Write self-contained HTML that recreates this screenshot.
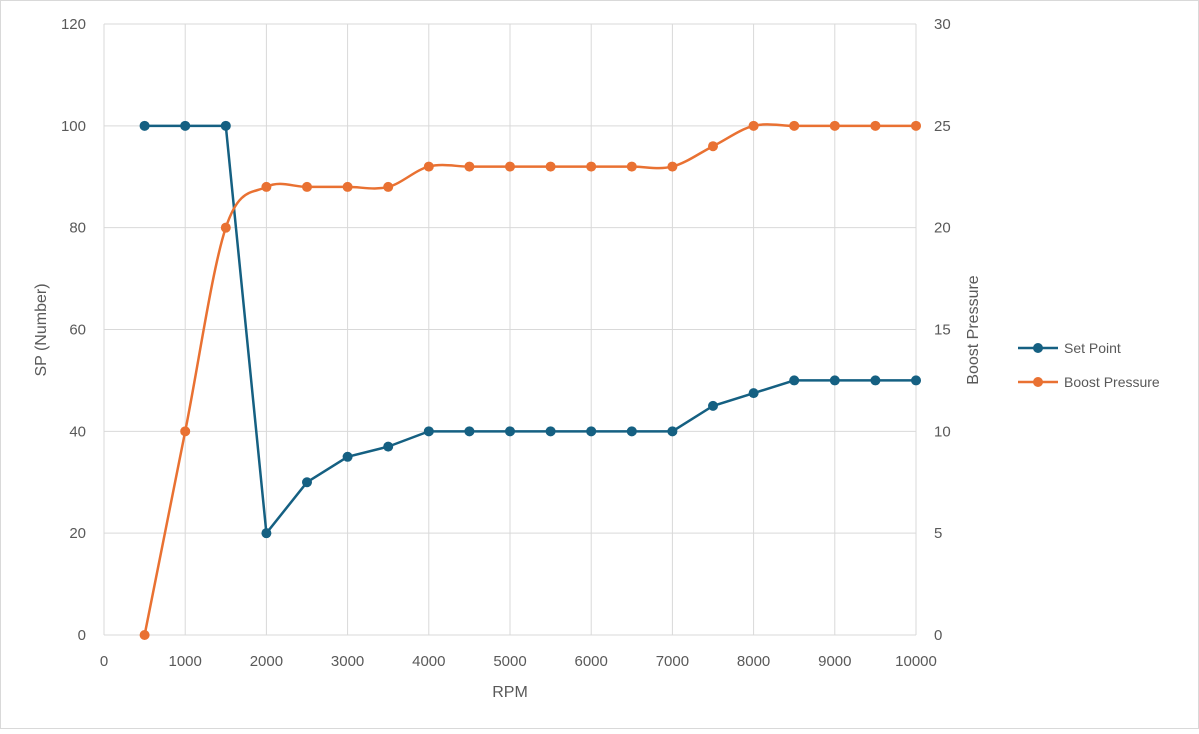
<!DOCTYPE html>
<html><head><meta charset="utf-8"><style>
body{margin:0;background:#fff;font-family:"Liberation Sans",sans-serif;}
svg text{font-family:"Liberation Sans",sans-serif;fill:#595959;}
</style></head><body>
<svg width="1199" height="729">
<rect x="0.5" y="0.5" width="1198" height="728" fill="#fff" stroke="#d9d9d9"/>
<g id="grid"></g><g id="axes"></g><g id="series"></g>
<text x="510" y="697" text-anchor="middle" font-size="16">RPM</text>
<text transform="translate(46,330) rotate(-90)" text-anchor="middle" font-size="16">SP (Number)</text>
<text transform="translate(978,330) rotate(-90)" text-anchor="middle" font-size="16">Boost Pressure</text>
<g>
<line x1="1018" y1="348" x2="1058" y2="348" stroke="#156082" stroke-width="2.5"/><circle cx="1038" cy="348" r="5" fill="#156082"/>
<text x="1064" y="353" font-size="14">Set Point</text></g>
<g>
<line x1="1018" y1="382" x2="1058" y2="382" stroke="#e97132" stroke-width="2.5"/><circle cx="1038" cy="382" r="5" fill="#e97132"/>
<text x="1064" y="387" font-size="14">Boost Pressure</text></g>
</svg>
<script>
const rpm=[500,1000,1500,2000,2500,3000,3500,4000,4500,5000,5500,6000,6500,7000,7500,8000,8500,9000,9500,10000];
const setPoint=[100,100,100,20,30,35,37,40,40,40,40,40,40,40,45,47.5,50,50,50,50];
const boost=[0,10,20,22,22,22,22,23,23,23,23,23,23,23,24,25,25,25,25,25];
const xTicks=[0,1000,2000,3000,4000,5000,6000,7000,8000,9000,10000];
const yTicks=[0,20,40,60,80,100,120];
const y2Ticks=[0,5,10,15,20,25,30];
const X0=104,X1=916,Y0=635,Y1=24;
const sx=v=>X0+(v/10000)*(X1-X0), sy=v=>Y0-(v/120)*(Y0-Y1), sy2=v=>Y0-(v/30)*(Y0-Y1);
const NS="http://www.w3.org/2000/svg";
function mk(t,a,p){const e=document.createElementNS(NS,t);for(const k in a)e.setAttribute(k,a[k]);p.appendChild(e);return e;}
const grid=document.getElementById('grid'),axes=document.getElementById('axes'),ser=document.getElementById('series');
xTicks.forEach(v=>{const l=mk('line',{x1:sx(v),x2:sx(v),y1:Y1,y2:Y0,stroke:'#d9d9d9'},grid);


const t=mk('text',{x:sx(v),y:Y0+31,'text-anchor':'middle','font-size':15},axes);t.textContent=v;

});
yTicks.forEach(v=>{const l=mk('line',{x1:X0,x2:X1,y1:sy(v),y2:sy(v),stroke:'#d9d9d9'},grid);


const t=mk('text',{x:X0-18,y:sy(v)+5,'text-anchor':'end','font-size':15},axes);t.textContent=v;

});
y2Ticks.forEach(v=>{const t=mk('text',{x:X1+18,y:sy2(v)+5,'font-size':15},axes);t.textContent=v;

});
// set point straight
const sp=rpm.map((r,i)=>[sx(r),sy(setPoint[i])]);
const l1=mk('path',{d:'M'+sp.map(p=>p.join(',')).join('L'),fill:'none',stroke:'#156082','stroke-width':2.5},ser);


// boost smooth
const bp=rpm.map((r,i)=>[sx(r),sy2(boost[i])]);
let d='M'+bp[0].join(',');
for(let i=0;i<bp.length-1;i++){const p0=bp[Math.max(0,i-1)],p1=bp[i],p2=bp[i+1],p3=bp[Math.min(bp.length-1,i+2)];const k=1/6;
d+=`C${p1[0]+(p2[0]-p0[0])*k},${p1[1]+(p2[1]-p0[1])*k} ${p2[0]-(p3[0]-p1[0])*k},${p2[1]-(p3[1]-p1[1])*k} ${p2[0]},${p2[1]}`;}
const l2=mk('path',{d:d,fill:'none',stroke:'#e97132','stroke-width':2.5},ser);


sp.forEach(p=>{const c=mk('circle',{cx:p[0],cy:p[1],r:5,fill:'#156082'},ser);

});
bp.forEach(p=>{const c=mk('circle',{cx:p[0],cy:p[1],r:5,fill:'#e97132'},ser);

});
</script>
</body></html>
